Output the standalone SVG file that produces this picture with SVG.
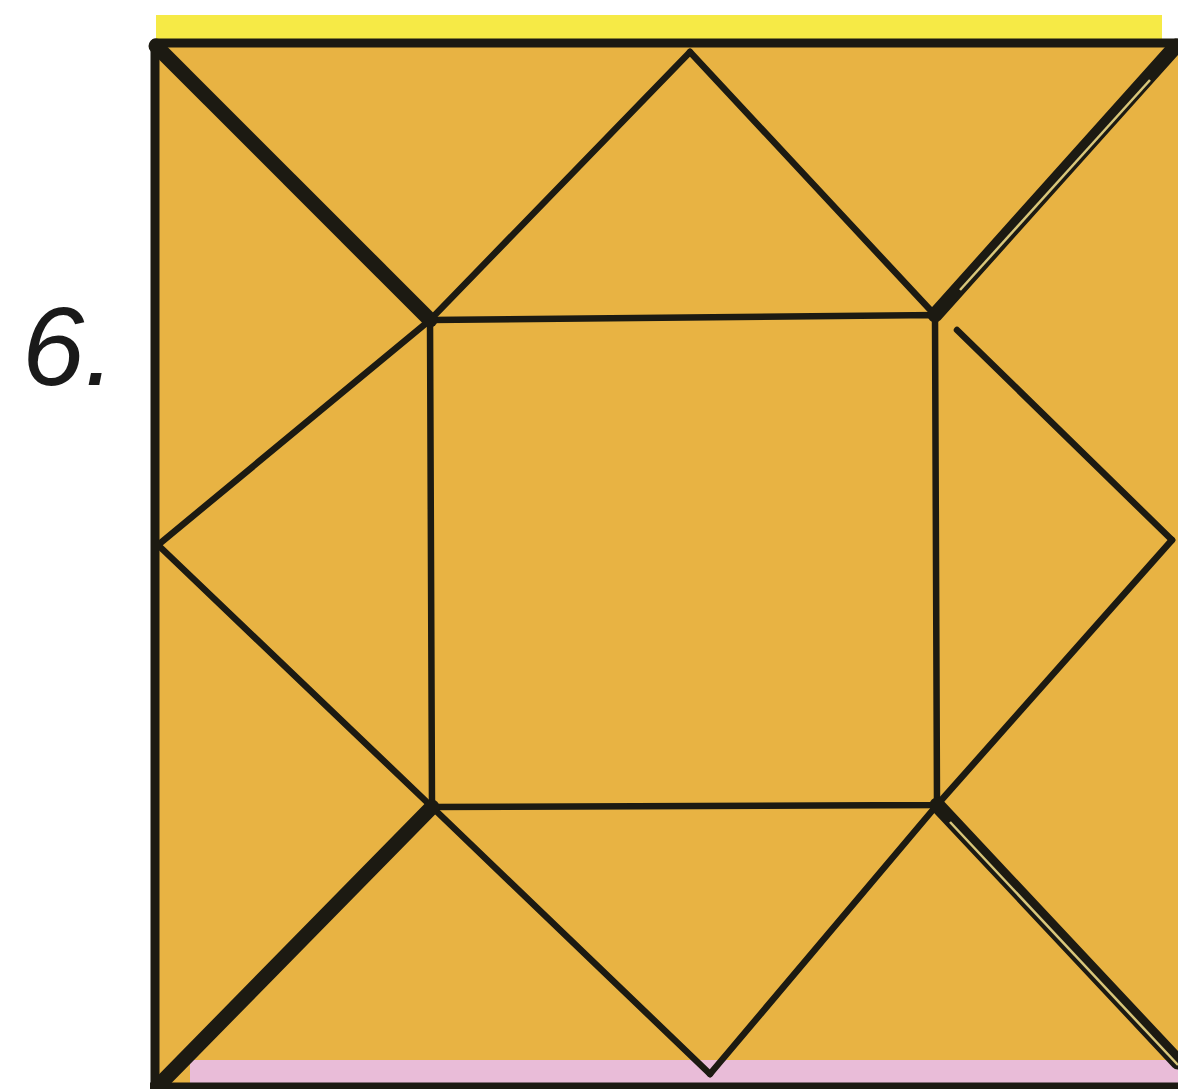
<svg xmlns="http://www.w3.org/2000/svg" width="1178" height="1089" viewBox="0 0 1178 1089">
  <style>
    .thin { stroke: #1c1a12; stroke-width: 6.5; stroke-linecap: round; fill: none; }
    .thick { stroke: #1c1a12; stroke-width: 15; stroke-linecap: round; fill: none; }
    .border { stroke: #1c1a12; stroke-width: 9; fill: none; stroke-linejoin: round; }
    .gap { stroke: #d9c77a; stroke-width: 2.5; fill: none; }
    .label { font-family: "Liberation Sans", Arial, sans-serif; font-size: 112px; font-style: italic; fill: #1a1a1a; }
  </style>
  <rect width="1178" height="1089" fill="#ffffff"/>
  <g id="strips">
    <rect x="156" y="15" width="1006" height="26" fill="#f6ea46"/>
    <rect x="156" y="42" width="1030" height="1046" fill="#e8b343"/>
    <rect x="190" y="1060" width="990" height="25" fill="#e9bcd8"/>
  </g>
  <g id="label">
    <text class="label" x="22" y="385">6.</text>
  </g>
  <g id="connectors">
    <path class="thin" d="M430 320 L935 315 L937 805 L432 807 Z"/>
    <line class="thin" x1="690" y1="52" x2="430" y2="320"/>
    <line class="thin" x1="690" y1="52" x2="935" y2="315"/>
    <line class="thin" x1="158" y1="545" x2="430" y2="320"/>
    <line class="thin" x1="158" y1="545" x2="432" y2="807"/>
    <line class="thin" x1="1172" y1="540" x2="957" y2="330"/>
    <line class="thin" x1="1172" y1="540" x2="937" y2="805"/>
    <line class="thin" x1="710" y1="1074" x2="432" y2="807"/>
    <line class="thin" x1="710" y1="1074" x2="937" y2="805"/>
    <line class="thick" x1="156" y1="46" x2="430" y2="320"/>
    <line class="thick" x1="1176" y1="46" x2="935" y2="315"/>
    <line class="gap" x1="1150" y1="80" x2="960" y2="290"/>
    <line class="thick" x1="160" y1="1084" x2="432" y2="807"/>
    <line class="thick" x1="937" y1="805" x2="1178" y2="1062"/>
    <line class="gap" x1="950" y1="822" x2="1178" y2="1065"/>
  </g>
  <g id="frame">
    <path class="border" d="M155 1089 L155 43 L1185 43 L1185 1089"/>
    <line class="border" x1="150" y1="1087" x2="1178" y2="1087"/>
  </g>
</svg>
